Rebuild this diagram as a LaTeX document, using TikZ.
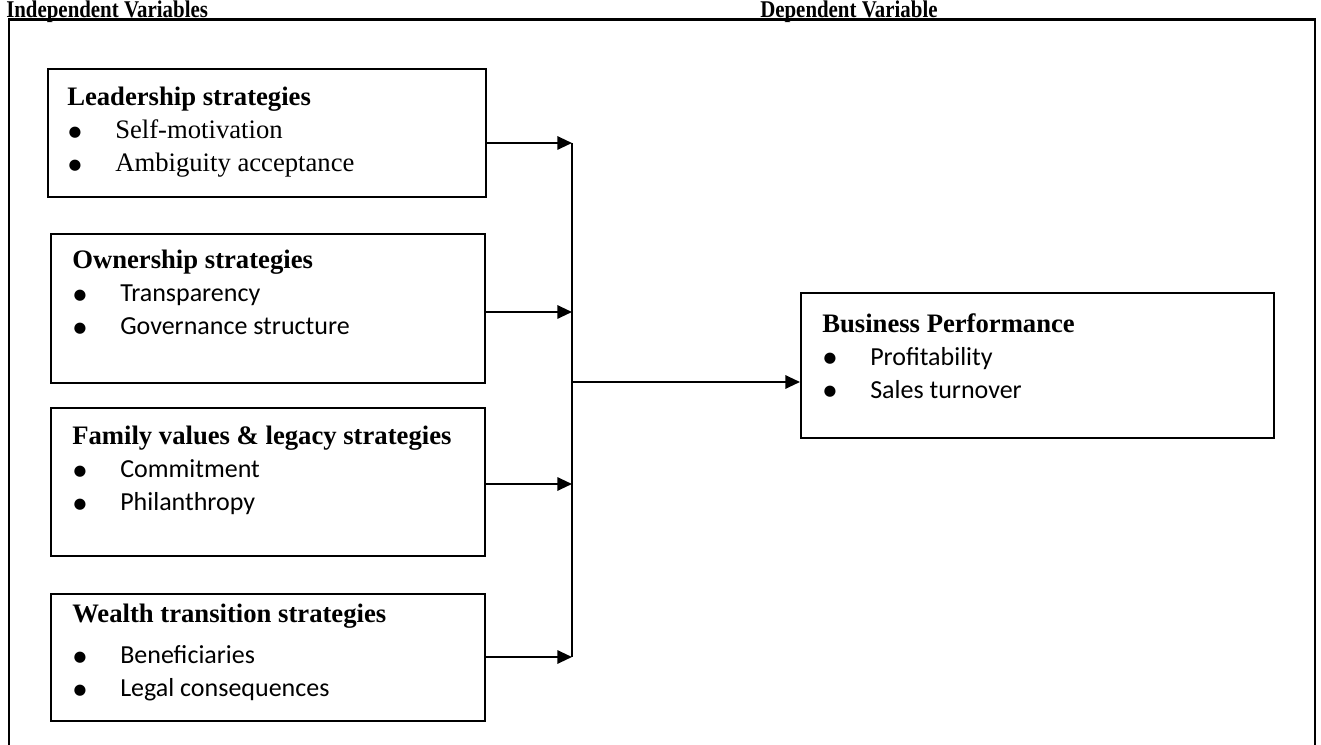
\documentclass[tikz,border=0pt]{standalone}
\usepackage{fontspec}
\usepackage{graphicx}
\setmainfont{Liberation Serif}
\newfontfamily\calibri{Carlito}
\newfontfamily\dejavu{DejaVu Sans}
\usetikzlibrary{arrows.meta, positioning}

\newcommand{\vitem}[1]{\makebox[36pt][l]{\hspace{1pt}\raisebox{1.6pt}{\dejavu\fontsize{11}{12}\selectfont ●}}#1}
\newcommand{\citem}[1]{\vitem{{\calibri\fontsize{19.5}{24.75}\selectfont #1}}}

\begin{document}
\begin{tikzpicture}[x=0.75pt,y=-0.75pt,
  vbox/.style={rectangle,draw,line width=1.5pt,anchor=north west,inner sep=0pt},
  vtext/.style={anchor=north west,inner sep=0pt,align=left,font=\fontsize{20}{24.75}\selectfont},
  vtitle/.style={anchor=base west,inner sep=0pt,font=\bfseries\fontsize{18}{22}\selectfont},
  arr/.style={line width=1.5pt,-{Triangle[length=11pt,width=10pt]}},
  bus/.style={line width=1.5pt}
]
  \useasboundingbox (0,0) rectangle (1321,745);
  % frame and headings
  \draw[line width=1.5pt] (9,745) -- (9,20);
  \draw[line width=2.25pt] (8,20) -- (1316,20);
  \draw[line width=1.5pt] (1315,20) -- (1315,745);
  \node[vtitle] (indep) at (6,18) {\scalebox{0.87}[1]{Independent Variables}};
  \node[vtitle] (dep) at (760,18) {\scalebox{0.87}[1]{Dependent Variable}};

  % independent variables
  \node[vbox,minimum width=328.5pt,minimum height=96pt] (lead) at (47,68) {};
  \node[vtext] (leadT) at ([shift={(20,19)}]lead.north west) {
    \textbf{Leadership strategies}\\
    \vitem{Self-motivation}\\
    \vitem{Ambiguity acceptance}
  };
  \node[vbox,minimum width=325.5pt,minimum height=111.75pt] (own) at (50,233) {};
  \node[vtext] (ownT) at ([shift={(22,17)}]own.north west) {
    \textbf{Ownership strategies}\\
    \citem{Transparency}\\
    \citem{Governance structure}
  };
  \node[vbox,minimum width=325.5pt,minimum height=111pt] (fam) at (50,407) {};
  \node[vtext] (famT) at ([shift={(22,19)}]fam.north west) {
    \textbf{Family values \& legacy strategies}\\
    \citem{Commitment}\\
    \citem{Philanthropy}
  };
  \node[vbox,minimum width=325.5pt,minimum height=95.25pt] (wealth) at (50,593) {};
  \node[vtext] (wealthT) at ([shift={(22,11)}]wealth.north west) {
    \textbf{Wealth transition strategies}\\[6pt]
    \citem{Beneficiaries}\\
    \citem{Legal consequences}
  };

  % dependent variable
  \node[vbox,minimum width=354.75pt,minimum height=108.75pt] (perf) at (800,292) {};
  \node[vtext] (perfT) at ([shift={(22,21)}]perf.north west) {
    \textbf{Business Performance}\\
    \citem{Profitability}\\
    \citem{Sales turnover}
  };

  % connectors
  \coordinate (j1) at (572,143);
  \coordinate (j2) at (572,312);
  \coordinate (j3) at (572,484);
  \coordinate (j4) at (572,657);
  \coordinate (jm) at (572,382);
  \draw[arr] (lead.east |- j1) -- (j1);
  \draw[arr] (own.east |- j2) -- (j2);
  \draw[arr] (fam.east |- j3) -- (j3);
  \draw[arr] (wealth.east |- j4) -- (j4);
  \draw[bus] (j1) -- (j4);
  \draw[arr] (jm) -- (jm -| perf.west);
\end{tikzpicture}
\end{document}
